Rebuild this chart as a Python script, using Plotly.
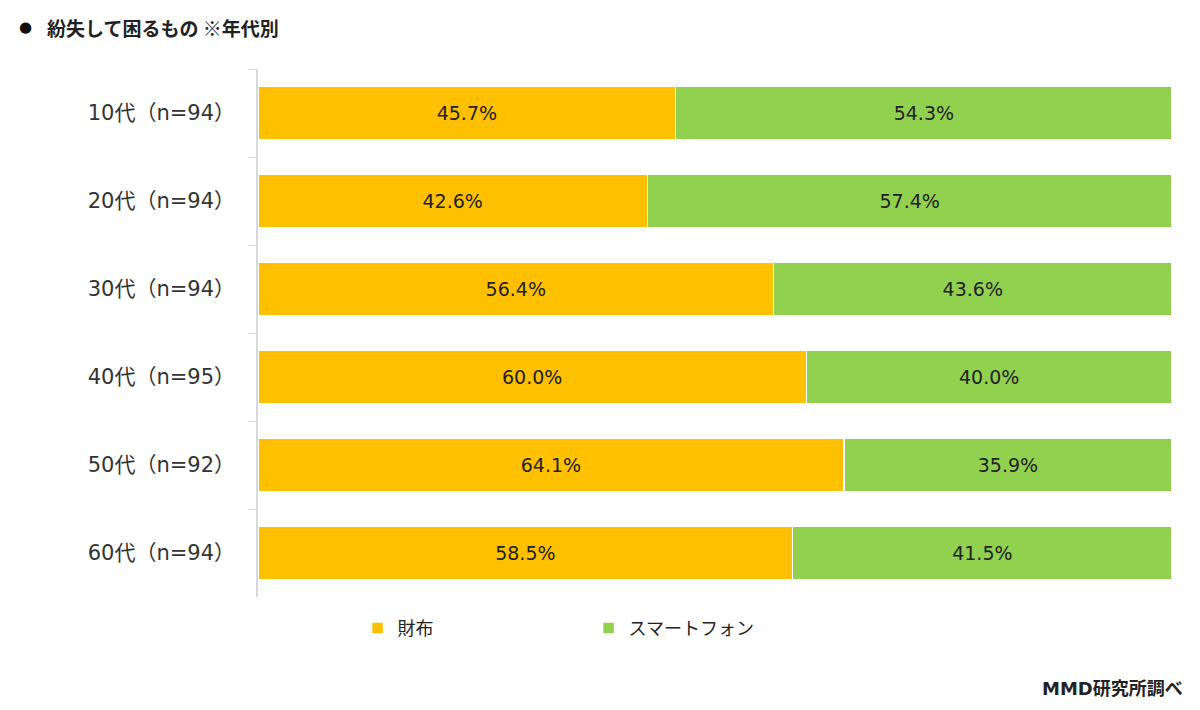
import plotly.graph_objects as go

categories = ["10代（n=94）", "20代（n=94）", "30代（n=94）", "40代（n=95）", "50代（n=92）", "60代（n=94）"]
wallet = [45.7, 42.6, 56.4, 60.0, 64.1, 58.5]
phone = [54.3, 57.4, 43.6, 40.0, 35.9, 41.5]
series_names = ["財布", "スマートフォン"]
colors = ["#FFC000", "#92D050"]

FONT = "DejaVu Sans, Noto Sans CJK JP"
JFONT = "Noto Sans CJK JP"

fig = go.Figure()
for name, vals, col in zip(series_names, [wallet, phone], colors):
    fig.add_trace(go.Bar(
        y=categories, x=vals, name=name, orientation="h",
        marker=dict(color=col, line=dict(color="white", width=1.5)),
        text=[f"{v:.1f}%" for v in vals], textposition="inside",
        insidetextanchor="middle",
        textfont=dict(family=FONT, size=19, color="#222222"),
        width=0.6,
    ))

fig.update_layout(
    barmode="stack",
    width=1200, height=710,
    margin=dict(l=258, r=28, t=69, b=113),
    plot_bgcolor="white", paper_bgcolor="white",
    font=dict(family=FONT, color="#333333"),
    showlegend=True,
    legend=dict(
        orientation="h", xref="container", yref="container",
        x=0.298, y=0.115, xanchor="left", yanchor="middle",
        traceorder="normal",
        font=dict(family=JFONT, size=18, color="#222222"),
        entrywidth=186, entrywidthmode="pixels",
    ),
    xaxis=dict(range=[0, 100], showgrid=False, showticklabels=False, zeroline=False,
               showline=False, fixedrange=True),
    yaxis=dict(
        autorange="reversed", showline=True, linecolor="#D9D9D9", linewidth=1.5,
        ticks="outside", tickson="boundaries", ticklen=8, tickcolor="#D9D9D9",
        tickfont=dict(family=FONT, size=21, color="#333333"),
        ticklabelstandoff=17, showgrid=False,
    ),
)
fig.add_annotation(text="●", xref="paper", yref="paper",
                   x=0, y=1, xanchor="left", yanchor="middle", showarrow=False,
                   font=dict(family=FONT, size=15, color="#111111"),
                   xshift=-241, yshift=42)
fig.add_annotation(text="<b>紛失して困るもの ※年代別</b>", xref="paper", yref="paper",
                   x=0, y=1, xanchor="left", yanchor="middle", showarrow=False,
                   font=dict(family=JFONT, size=19, color="#222222"),
                   xshift=-213, yshift=42)
fig.add_annotation(text="<b>MMD研究所調べ</b>", xref="paper", yref="paper",
                   x=1, y=0, xanchor="right", yanchor="middle", showarrow=False,
                   font=dict(family=FONT, size=18, color="#222222"),
                   xshift=13, yshift=-91)

fig.write_html("out.html")
